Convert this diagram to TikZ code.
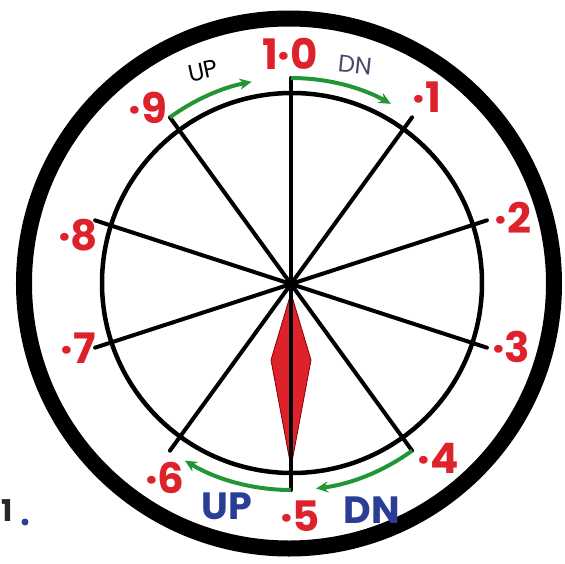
\documentclass[tikz,border=0pt]{standalone}
\usepackage{fontspec}
\setsansfont{Poppins}
\usepackage{xcolor}
\definecolor{dialred}{RGB}{222, 34, 44}
\definecolor{dialgreen}{RGB}{34, 150, 52}
\definecolor{dialblue}{RGB}{42, 62, 150}
\definecolor{dialgray}{RGB}{72, 72, 110}
\usepackage{tikz}
\usetikzlibrary{arrows.meta}

\begin{document}
\begin{tikzpicture}[
  x=1pt, y=1pt,
  num/.style={text=dialred, font=\sffamily\bfseries\fontsize{42}{44}\selectfont, inner sep=0pt},
  tag/.style={font=\sffamily\bfseries\fontsize{38}{40}\selectfont, inner sep=0pt, text=dialblue},
  small/.style={font=\sffamily\fontsize{24}{25}\selectfont, inner sep=0pt},
  spoke/.style={line width=4pt, line cap=round},
  turn/.style={draw=dialgreen, line width=4pt, -{Stealth[length=12pt, width=11pt]}}
]
  \useasboundingbox (-291,-279) rectangle (274,284);

  % Dial rings
  \draw[line width=16pt] (-2,0.5) circle[radius=265pt];
  \draw[line width=4.5pt] (1,1) circle[radius=190pt];

  % Pointer
  \node[inner sep=0pt] (hub) at (0,0) {};
  \fill[dialred, draw=red!55!black, line width=0.8pt] (0,-9) -- (20,-76) -- (0,-183) -- (-20,-76) -- cycle;

  % Spokes
  \foreach \k in {0,...,9} {
    \coordinate (s\k) at ({90-36*\k}:206pt);
  }
  \foreach \k in {0,...,4} {
    \pgfmathtruncatemacro{\m}{\k+5}
    \draw[spoke] (s\k) -- (s\m);
  }
  \fill (hub) circle[radius=6pt];

  % Turning arrows
  \draw[turn] (s9) arc[start angle=126, end angle=101, radius=206pt];
  \draw[turn] (s0) arc[start angle=90, end angle=61, radius=206pt];
  \draw[turn] (s4) arc[start angle=-54, end angle=-83, radius=206pt];
  \draw[turn] (s5) arc[start angle=-90, end angle=-121, radius=206pt];

  % Numbers
  \node[num] (n0) at (-1,230)    {1·0};
  \node[num] (n1) at (136,187)   {·1};
  \node[num] (n2) at (222,66)    {·2};
  \node[num] (n3) at (220,-63)   {·3};
  \node[num] (n4) at (147,-174)  {·4};
  \node[num] (n5) at (9,-232)    {·5};
  \node[num] (n6) at (-126,-194) {·6};
  \node[num] (n7) at (-213,-64)  {·7};
  \node[num] (n8) at (-213,49)   {·8};
  \node[num] (n9) at (-143,176)  {·9};

  % Directions
  \node[small, rotate=12] (up1) at (-88,213) {UP};
  \node[small, text=dialgray, rotate=-6] (dn1) at (64,219) {DN};
  \node[tag] (up2) at (-64,-222) {UP};
  \node[tag] (dn2) at (81,-226)  {DN};

  % Corner mark
  \node[small, font=\sffamily\bfseries\fontsize{30}{32}\selectfont, text=black!85] (one) at (-284,-227) {1};
  \fill[dialblue] (-266,-238) circle[radius=3.5pt];
\end{tikzpicture}
\end{document}
